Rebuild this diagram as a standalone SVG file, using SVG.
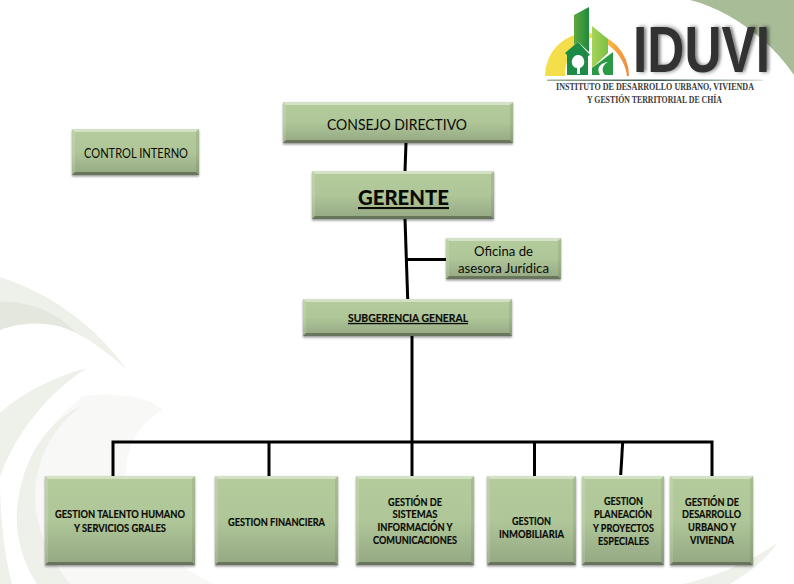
<svg xmlns="http://www.w3.org/2000/svg" width="794" height="584" viewBox="0 0 794 584">
<style>
text{font-family:"Lato","Carlito","Liberation Sans",sans-serif;fill:#0a0a05;text-anchor:middle}
.b{font-weight:700;font-size:10.8px;stroke:#0a0a05;stroke-width:.18px}
.box{fill:url(#g);filter:url(#sh)}
.top{fill:#fff;fill-opacity:.42}
.left{fill:#fff;fill-opacity:.14}
.right{fill:#000;fill-opacity:.07}
.bot{fill:#000;fill-opacity:.3}
.c{fill:none;stroke:#000;stroke-width:3}
.bg1{fill:#eef0ea}
.bg2{fill:#e3e7de}
.bg3{fill:#f8f9f7}
.sub{font-family:'Liberation Serif',serif;font-size:9.5px;font-weight:700;fill:#3a3a3a}
</style>
<defs>
<linearGradient id="g" x1="0" y1="0" x2="0" y2="1"><stop offset="0" stop-color="#b4cb9c"/><stop offset=".5" stop-color="#afc698"/><stop offset="1" stop-color="#94a783"/></linearGradient>
<linearGradient id="sun" x1="0" y1="0" x2="1" y2="0"><stop offset="0" stop-color="#f3e04a"/><stop offset=".6" stop-color="#f8d84a"/><stop offset="1" stop-color="#f0893a"/></linearGradient>
<linearGradient id="ln" x1="0" y1="0" x2="1" y2="0"><stop offset="0" stop-color="#9fb39a"/><stop offset=".5" stop-color="#33574a"/><stop offset="1" stop-color="#dfe6df"/></linearGradient>
<linearGradient id="t1" x1="0" y1="0" x2="1" y2="0"><stop offset="0" stop-color="#5fa83f"/><stop offset="1" stop-color="#1f8a3c"/></linearGradient>
<linearGradient id="t2" x1="0" y1="0" x2="1" y2="0"><stop offset="0" stop-color="#a5d45a"/><stop offset="1" stop-color="#7cc043"/></linearGradient>
<filter id="sh" x="-5%" y="-5%" width="110%" height="125%"><feDropShadow dx="0" dy="1.500" stdDeviation="1.300" flood-color="#000" flood-opacity=".42"/></filter>
<filter id="blur" x="-10%" y="-10%" width="125%" height="125%"><feDropShadow dx="3" dy="0" stdDeviation="2.200" flood-color="#000" flood-opacity=".5"/></filter>
</defs>

<rect width="794" height="584" fill="#fff"/>
<g id="background">
<path fill="#a9bc98" d="M690,0C730,10 770,40 794,75V0Z"/>
<path class="bg3" d="M83,396C115,392 145,395 163,410C135,425 122,455 127,490C135,530 175,565 213,584H70C40,560 20,520 22,490C25,450 55,420 83,396Z"/>
<path class="bg1" d="M0,277C50,293 95,325 127,370C100,345 70,325 40,322C25,321 10,325 0,330Z"/>
<path class="bg2" d="M0,302C30,300 60,315 75,332C55,322 25,320 0,330Z"/>
<path class="bg1" d="M87,368C50,378 20,395 0,413V477C15,435 45,395 87,368Z"/>
<path class="bg1" d="M83,405C50,420 22,455 17,510C15,540 25,565 37,584H70C50,560 34,525 35,493C37,455 55,425 83,405Z"/>
<path class="bg1" d="M0,477V584H12C3,550 0,510 0,477Z"/>
<path class="bg1" d="M777,543C750,562 715,577 683,584H730C750,572 768,558 777,543Z"/>
</g>

<g id="logo">
<path fill="url(#sun)" d="M545,76A42,43 0 0 1 629,76H627C625,55 605,38 590,38C575,38 566,55 565,76Z"/>
<path fill="url(#t1)" d="M574,15L589,7V52L578,42L574,45Z"/>
<path fill="url(#t2)" d="M592,26L608,39V53L592,68Z"/>
<path fill="#1d8a45" d="M565,53L578,42L590,55L588,56V75H567V55Z"/>
<path fill="#fff" d="M578,55C583,55 585,60 584,64C583,67 580,68 580,68V74H577V68C573,68 571,63 572,60C573,57 575,55 578,55Z"/>
<path fill="#2a9a45" d="M592,68L613,52V75H592Z"/>
<path fill="#fff" d="M608,62C600,63 596,68 600,75H605C601,71 602,65 608,62Z"/>
<rect x="547" y="79.500" width="216" height="1.500" fill="url(#ln)"/>
<text transform="translate(701.500 72) scale(.79 1)" style="font-family:'Liberation Sans',sans-serif;font-size:65px;font-weight:700;fill:#333;filter:url(#blur)">IDUVI</text>
<text class="sub" x="655" y="90" textLength="198" lengthAdjust="spacingAndGlyphs">INSTITUTO DE DESARROLLO URBANO, VIVIENDA</text>
<text class="sub" x="654.500" y="103" textLength="135" lengthAdjust="spacingAndGlyphs">Y GESTIÓN TERRITORIAL DE CHÍA</text>
</g>

<g id="connectors">
<path class="c" d="M406,143L405,171"/>
<path class="c" d="M405,219L407.700,299"/>
<path class="c" d="M407,259.500H446"/>
<path class="c" d="M412,336V476"/>
<path class="c" d="M113,476V442H712V476"/>
<path class="c" d="M269,442V476"/>
<path class="c" d="M534.500,442V476"/>
<path class="c" d="M622.700,442L620.700,475"/>
</g>

<g id="consejo">
<rect class="box" x="283" y="102" width="230" height="41"/>
<path class="top" d="M283,102H513L510,105H286Z"/><path class="left" d="M283,102L286,105V140L283,143Z"/><path class="right" d="M513,102L510,105V140L513,143Z"/><path class="bot" d="M283,143H513L510,140H286Z"/>
<text x="397" y="130" font-size="16" textLength="140" lengthAdjust="spacingAndGlyphs">CONSEJO DIRECTIVO</text>
</g>
<g id="gerente">
<rect class="box" x="312" y="171" width="182" height="48"/>
<path class="top" d="M312,171H494L491,174H315Z"/><path class="left" d="M312,171L315,174V216L312,219Z"/><path class="right" d="M494,171L491,174V216L494,219Z"/><path class="bot" d="M312,219H494L491,216H315Z"/>
<text x="403.500" y="205" font-size="21" font-weight="900" text-decoration="underline" textLength="91" lengthAdjust="spacingAndGlyphs">GERENTE</text>
</g>
<g id="control">
<rect class="box" x="72" y="129" width="127" height="46"/>
<path class="top" d="M72,129H199L196,132H75Z"/><path class="left" d="M72,129L75,132V172L72,175Z"/><path class="right" d="M199,129L196,132V172L199,175Z"/><path class="bot" d="M72,175H199L196,172H75Z"/>
<text x="136" y="158" font-size="12.500" textLength="104" lengthAdjust="spacingAndGlyphs">CONTROL INTERNO</text>
</g>
<g id="oficina">
<rect class="box" x="446" y="238" width="115" height="41"/>
<path class="top" d="M446,238H561L558,241H449Z"/><path class="left" d="M446,238L449,241V276L446,279Z"/><path class="right" d="M561,238L558,241V276L561,279Z"/><path class="bot" d="M446,279H561L558,276H449Z"/>
<text x="503.500" y="256" font-size="14" textLength="59" lengthAdjust="spacingAndGlyphs">Oficina de</text>
<text x="503.500" y="273" font-size="14" textLength="91" lengthAdjust="spacingAndGlyphs">asesora Jurídica</text>
</g>
<g id="subgerencia">
<rect class="box" x="303" y="299" width="209" height="37"/>
<path class="top" d="M303,299H512L509,302H306Z"/><path class="left" d="M303,299L306,302V333L303,336Z"/><path class="right" d="M512,299L509,302V333L512,336Z"/><path class="bot" d="M303,336H512L509,333H306Z"/>
<text class="b" x="408" y="322" text-decoration="underline" textLength="120" lengthAdjust="spacingAndGlyphs">SUBGERENCIA GENERAL</text>
</g>
<g id="talento">
<rect class="box" x="45" y="476" width="150" height="89"/>
<path class="top" d="M45,476H195L192,479H48Z"/><path class="left" d="M45,476L48,479V562L45,565Z"/><path class="right" d="M195,476L192,479V562L195,565Z"/><path class="bot" d="M45,565H195L192,562H48Z"/>
<text class="b" x="120" y="518" textLength="130" lengthAdjust="spacingAndGlyphs">GESTION TALENTO HUMANO</text>
<text class="b" x="120" y="532" textLength="92" lengthAdjust="spacingAndGlyphs">Y SERVICIOS GRALES</text>
</g>
<g id="financiera">
<rect class="box" x="215" y="476" width="123" height="89"/>
<path class="top" d="M215,476H338L335,479H218Z"/><path class="left" d="M215,476L218,479V562L215,565Z"/><path class="right" d="M338,476L335,479V562L338,565Z"/><path class="bot" d="M215,565H338L335,562H218Z"/>
<text class="b" x="276.500" y="526" textLength="97" lengthAdjust="spacingAndGlyphs">GESTION FINANCIERA</text>
</g>
<g id="sistemas">
<rect class="box" x="356" y="476" width="118" height="89"/>
<path class="top" d="M356,476H474L471,479H359Z"/><path class="left" d="M356,476L359,479V562L356,565Z"/><path class="right" d="M474,476L471,479V562L474,565Z"/><path class="bot" d="M356,565H474L471,562H359Z"/>
<text class="b" x="415" y="506" textLength="54" lengthAdjust="spacingAndGlyphs">GESTIÓN DE</text>
<text class="b" x="415" y="518" textLength="45" lengthAdjust="spacingAndGlyphs">SISTEMAS</text>
<text class="b" x="415" y="531" textLength="75" lengthAdjust="spacingAndGlyphs">INFORMACIÓN Y</text>
<text class="b" x="415" y="544" textLength="84" lengthAdjust="spacingAndGlyphs">COMUNICACIONES</text>
</g>
<g id="inmobiliaria">
<rect class="box" x="487" y="476" width="89" height="89"/>
<path class="top" d="M487,476H576L573,479H490Z"/><path class="left" d="M487,476L490,479V562L487,565Z"/><path class="right" d="M576,476L573,479V562L576,565Z"/><path class="bot" d="M487,565H576L573,562H490Z"/>
<text class="b" x="531.500" y="525" textLength="39" lengthAdjust="spacingAndGlyphs">GESTION</text>
<text class="b" x="531.500" y="538" textLength="65" lengthAdjust="spacingAndGlyphs">INMOBILIARIA</text>
</g>
<g id="planeacion">
<rect class="box" x="582" y="476" width="82" height="89"/>
<path class="top" d="M582,476H664L661,479H585Z"/><path class="left" d="M582,476L585,479V562L582,565Z"/><path class="right" d="M664,476L661,479V562L664,565Z"/><path class="bot" d="M582,565H664L661,562H585Z"/>
<text class="b" x="623.500" y="505" textLength="39" lengthAdjust="spacingAndGlyphs">GESTION</text>
<text class="b" x="623" y="518" textLength="58" lengthAdjust="spacingAndGlyphs">PLANEACIÓN</text>
<text class="b" x="623.500" y="532" textLength="61" lengthAdjust="spacingAndGlyphs">Y PROYECTOS</text>
<text class="b" x="623.500" y="545" textLength="51" lengthAdjust="spacingAndGlyphs">ESPECIALES</text>
</g>
<g id="desarrollo">
<rect class="box" x="670" y="476" width="83" height="89"/>
<path class="top" d="M670,476H753L750,479H673Z"/><path class="left" d="M670,476L673,479V562L670,565Z"/><path class="right" d="M753,476L750,479V562L753,565Z"/><path class="bot" d="M670,565H753L750,562H673Z"/>
<text class="b" x="712" y="506" textLength="54" lengthAdjust="spacingAndGlyphs">GESTIÓN DE</text>
<text class="b" x="711.500" y="518" textLength="59" lengthAdjust="spacingAndGlyphs">DESARROLLO</text>
<text class="b" x="712" y="531" textLength="48" lengthAdjust="spacingAndGlyphs">URBANO Y</text>
<text class="b" x="712" y="544" textLength="44" lengthAdjust="spacingAndGlyphs">VIVIENDA</text>
</g>
</svg>
